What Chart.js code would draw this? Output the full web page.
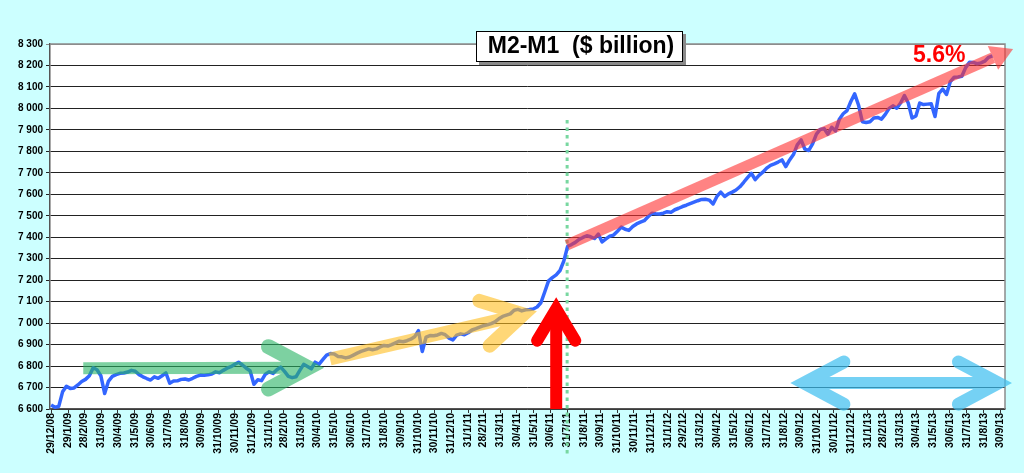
<!DOCTYPE html>
<html>
<head>
<meta charset="utf-8">
<script src="https://cdn.jsdelivr.net/npm/chart.js@4.4.0/dist/chart.umd.min.js"></script>
<style>
html, body { margin: 0; padding: 0; background: #CCFFFF; }
#wrap { width: 1024px; height: 473px; }
</style>
</head>
<body>
<div id="wrap"><canvas id="myChart"></canvas></div>
<script>
// weekly M2-M1, $ billion, first week = 29/12/08
var firstWeek = '29/12/08';

var tickLabels = [
    '29/12/08', '29/1/09', '28/2/09', '31/3/09', '30/4/09', '31/5/09', '30/6/09', '31/7/09', '31/8/09', '30/9/09',
    '31/10/09', '30/11/09', '31/12/09', '31/1/10', '28/2/10', '31/3/10', '30/4/10', '31/5/10', '30/6/10', '31/7/10',
    '31/8/10', '30/9/10', '31/10/10', '30/11/10', '31/12/10', '31/1/11', '28/2/11', '31/3/11', '30/4/11', '31/5/11',
    '30/6/11', '31/7/11', '31/8/11', '30/9/11', '31/10/11', '30/11/11', '31/12/11', '31/1/12', '29/2/12', '31/3/12',
    '30/4/12', '31/5/12', '30/6/12', '31/7/12', '31/8/12', '30/9/12', '31/10/12', '30/11/12', '31/12/12', '31/1/13',
    '28/2/13', '31/3/13', '30/4/13', '31/5/13', '30/6/13', '31/7/13', '31/8/13', '30/9/13'
];

var weeks2009 = [
    6619, 6608, 6612, 6680, 6706, 6696, 6698, 6712, 6728, 6738,
    6755, 6792, 6783, 6755, 6672, 6730, 6752, 6760, 6766, 6768,
    6772, 6780, 6776, 6760, 6750, 6742, 6735, 6750, 6743, 6755,
    6768, 6720, 6730, 6731, 6738, 6740, 6735, 6743, 6752, 6758,
    6757, 6759, 6763, 6773, 6769, 6780, 6790, 6797, 6808, 6818,
    6805, 6790, 6778
];
var weeks2010 = [
    6715, 6736, 6732, 6762, 6773, 6766, 6783,
    6795, 6775, 6752, 6746, 6750, 6780, 6808, 6798, 6787, 6818,
    6808, 6830, 6851, 6858, 6856, 6845, 6843, 6838, 6842, 6851,
    6860, 6868, 6874, 6880, 6876, 6880, 6889, 6896, 6893, 6900,
    6908, 6916, 6913, 6918, 6925, 6936, 6965, 6868, 6935, 6942,
    6941, 6945, 6952, 6946, 6930
];
var weeks2011 = [
    6922, 6944, 6950, 6946, 6955,
    6968, 6974, 6981, 6988, 6992, 6998, 7006, 7020, 7031, 7037,
    7043, 7060, 7064, 7057, 7062, 7063, 7066, 7075, 7095, 7145,
    7197, 7212, 7225, 7245, 7290, 7358, 7366, 7376, 7390, 7399,
    7407, 7402, 7394, 7415, 7378, 7392, 7405, 7410, 7428, 7447,
    7437, 7432, 7450, 7462, 7470, 7477, 7495
];
var weeks2012 = [
    7512, 7509, 7508,
    7512, 7519, 7516, 7528, 7535, 7543, 7549, 7556, 7563, 7570,
    7576, 7577, 7573, 7555, 7590, 7610, 7590, 7602, 7610, 7620,
    7635, 7656, 7678, 7698, 7668, 7688, 7703, 7722, 7735, 7742,
    7750, 7760, 7729, 7760, 7785, 7830, 7853, 7810, 7804, 7835,
    7880, 7902, 7906, 7880, 7912, 7895, 7950, 7975, 7990, 8032
];
var weeks2013 = [
    8068, 8016, 7938, 7934, 7938, 7955, 7958, 7950, 7972, 8000,
    8012, 8001, 8025, 8060, 8025, 7955, 7965, 8025, 8018, 8020,
    8022, 7962, 8070, 8090, 8065, 8125, 8145, 8146, 8150, 8190,
    8215, 8214, 8208, 8212, 8220, 8238, 8245
];

var m2m1 = weeks2009.concat(weeks2010, weeks2011, weeks2012, weeks2013);

function toUTC(s) {
    var p = s.split('/');
    return Date.UTC(2000 + parseInt(p[2], 10), parseInt(p[1], 10) - 1, parseInt(p[0], 10));
}
function dayOf(s) {
    return (toUTC(s) - toUTC(firstWeek)) / 86400000;
}

var points = m2m1.map(function(v, i) { return { x: i * 7, y: v }; });

// overlay arrows, positions in [week, value]
var arrows = [
    { from: [8.4, 6790], to: [67.2, 6792], color: 'rgb(40,180,100)', alpha: 0.6, width: 12, armWidth: 15, head: 45, spread: 28 },
    { from: [72.9, 6833], to: [123.4, 7041], color: 'rgb(255,190,30)', alpha: 0.6, width: 13, armWidth: 14, head: 46, spread: 30 },
    { from: [132, 6600], to: [132, 7066], color: '#ff0000', alpha: 1, width: 12, armWidth: 12, head: 37, spread: 31 },
    { from: [196.8, 6721], to: [247.5, 6721], both: true, color: 'rgb(60,190,240)', alpha: 0.7, width: 12, armWidth: 13, head: 45, spread: 28 },
    { from: [134.8, 7364], to: [251.4, 8277], color: 'rgb(255,50,50)', alpha: 0.6, width: 11, triangle: [22, 13] }
];

function pt(chart, w, v) {
    return [chart.scales.x.getPixelForValue(w * 7), chart.scales.y.getPixelForValue(v)];
}

function layer(chart, alpha, paint) {
    var c = document.createElement('canvas');
    c.width = chart.canvas.width;
    c.height = chart.canvas.height;
    var g = c.getContext('2d');
    var r = chart.currentDevicePixelRatio;
    g.setTransform(r, 0, 0, r, 0, 0);
    paint(g);
    var ctx = chart.ctx;
    ctx.save();
    ctx.setTransform(1, 0, 0, 1, 0, 0);
    ctx.globalAlpha = alpha;
    ctx.drawImage(c, 0, 0);
    ctx.restore();
}

function chevron(g, tip, ang, o) {
    g.lineWidth = o.armWidth;
    g.lineCap = 'round';
    g.lineJoin = 'miter';
    g.beginPath();
    g.moveTo(tip[0] - o.head * Math.cos(ang - o.spread * Math.PI / 180), tip[1] - o.head * Math.sin(ang - o.spread * Math.PI / 180));
    g.lineTo(tip[0], tip[1]);
    g.lineTo(tip[0] - o.head * Math.cos(ang + o.spread * Math.PI / 180), tip[1] - o.head * Math.sin(ang + o.spread * Math.PI / 180));
    g.stroke();
}

function drawArrow(chart, o) {
    var a = pt(chart, o.from[0], o.from[1]);
    var b = pt(chart, o.to[0], o.to[1]);
    layer(chart, o.alpha, function(g) {
        var ang = Math.atan2(b[1] - a[1], b[0] - a[0]);
        var ux = Math.cos(ang), uy = Math.sin(ang);
        g.strokeStyle = o.color;
        g.fillStyle = o.color;
        g.lineWidth = o.width;
        g.lineCap = 'butt';
        g.beginPath();
        if (o.triangle) {
            var L = o.triangle[0], H = o.triangle[1];
            g.moveTo(a[0], a[1]);
            g.lineTo(b[0] - ux * L, b[1] - uy * L);
            g.stroke();
            g.beginPath();
            g.moveTo(b[0], b[1]);
            g.lineTo(b[0] - ux * L - uy * H, b[1] - uy * L + ux * H);
            g.lineTo(b[0] - ux * L + uy * H, b[1] - uy * L - ux * H);
            g.closePath();
            g.fill();
            return;
        }
        g.moveTo(a[0], a[1]);
        g.lineTo(b[0] - ux * 4, b[1] - uy * 4);
        g.stroke();
        chevron(g, b, ang, o);
        if (o.both) chevron(g, a, ang + Math.PI, o);
    });
}

var overlays = {
    id: 'overlays',
    beforeDraw: function(chart) {
        var ctx = chart.ctx, a = chart.chartArea;
        ctx.save();
        ctx.fillStyle = '#CCFFFF';
        ctx.fillRect(0, 0, chart.width, chart.height);
        ctx.fillStyle = '#ffffff';
        ctx.fillRect(a.left, a.top, a.right - a.left, a.bottom - a.top);
        ctx.restore();
    },
    beforeDatasetsDraw: function(chart) {
        var ctx = chart.ctx, a = chart.chartArea;
        ctx.save();
        ctx.strokeStyle = '#8c8c8c';
        ctx.lineWidth = 1.5;
        ctx.beginPath();
        ctx.moveTo(a.left, a.top);
        ctx.lineTo(a.right, a.top);
        ctx.lineTo(a.right, a.bottom);
        ctx.stroke();
        // dotted marker at 31/7/11
        var x = chart.scales.x.getPixelForValue(dayOf('31/7/11'));
        ctx.strokeStyle = 'rgb(120,215,160)';
        ctx.lineWidth = 3;
        ctx.setLineDash([3.5, 4]);
        ctx.beginPath();
        ctx.moveTo(x, chart.scales.y.getPixelForValue(7946));
        ctx.lineTo(x, a.bottom + 46);
        ctx.stroke();
        ctx.restore();
    },
    afterDatasetsDraw: function(chart) {
        arrows.forEach(function(o) { drawArrow(chart, o); });
    },
    afterDraw: function(chart) {
        var ctx = chart.ctx;
        ctx.save();
        // title box
        ctx.fillStyle = '#8a8a8a';
        ctx.fillRect(479, 34, 207, 31);
        ctx.fillStyle = '#ffffff';
        ctx.fillRect(476, 31, 207, 31);
        ctx.strokeStyle = '#000000';
        ctx.lineWidth = 1;
        ctx.strokeRect(476.5, 31.5, 206, 30);
        ctx.fillStyle = '#000000';
        ctx.font = 'bold 23px "Liberation Sans", Arial, sans-serif';
        ctx.textAlign = 'center';
        ctx.textBaseline = 'middle';
        ctx.fillText('M2-M1  ($ billion)', 581, 47);
        // growth rate label
        ctx.fillStyle = '#ff0000';
        ctx.textAlign = 'left';
        ctx.fillText('5.6%', 913, 56);
        ctx.restore();
    }
};

var ctx = 'myChart';

var lineGraph = new Chart(ctx, {
    type: 'line',
    data: {
        datasets: [{
            label: 'M2-M1',
            data: points,
            borderColor: '#3366FF',
            borderWidth: 3.5,
            pointRadius: 0,
            tension: 0,
            borderJoinStyle: 'round',
            fill: false
        }]
    },
    options: {
        responsive: true,
        maintainAspectRatio: false,
        animation: false,
        layout: { padding: { top: 44, right: 19, left: 0, bottom: 0 } },
        plugins: {
            legend: { display: false },
            tooltip: { enabled: false }
        },
        scales: {
            x: {
                type: 'linear',
                min: -2,
                max: 1745,
                afterBuildTicks: function(axis) {
                    axis.ticks = tickLabels.map(function(l) { return { value: dayOf(l) }; });
                },
                afterFit: function(axis) { axis.height = 64; },
                grid: { drawOnChartArea: false, color: '#333333', tickLength: 4 },
                border: { color: '#555555', width: 1.5 },
                ticks: {
                    autoSkip: false,
                    maxRotation: 90,
                    minRotation: 90,
                    padding: 0,
                    color: '#000000',
                    font: { family: '"Liberation Sans", Arial, sans-serif', size: 10.5, weight: 'bold' },
                    callback: function(value, index) { return tickLabels[index]; }
                }
            },
            y: {
                min: 6600,
                max: 8300,
                afterFit: function(axis) { axis.width = 50; },
                grid: {
                    color: function(c) { return c.tick && c.tick.value === 8300 ? '#8c8c8c' : '#222222'; },
                    tickLength: 4
                },
                border: { color: '#555555', width: 1.5 },
                ticks: {
                    stepSize: 100,
                    padding: 3,
                    color: '#000000',
                    font: { family: '"Liberation Sans", Arial, sans-serif', size: 10, weight: 'bold' },
                    callback: function(v) { return String(v).replace(/\B(?=(\d{3})+(?!\d))/g, ' '); }
                }
            }
        }
    },
    plugins: [overlays]
});
</script>
</body>
</html>
